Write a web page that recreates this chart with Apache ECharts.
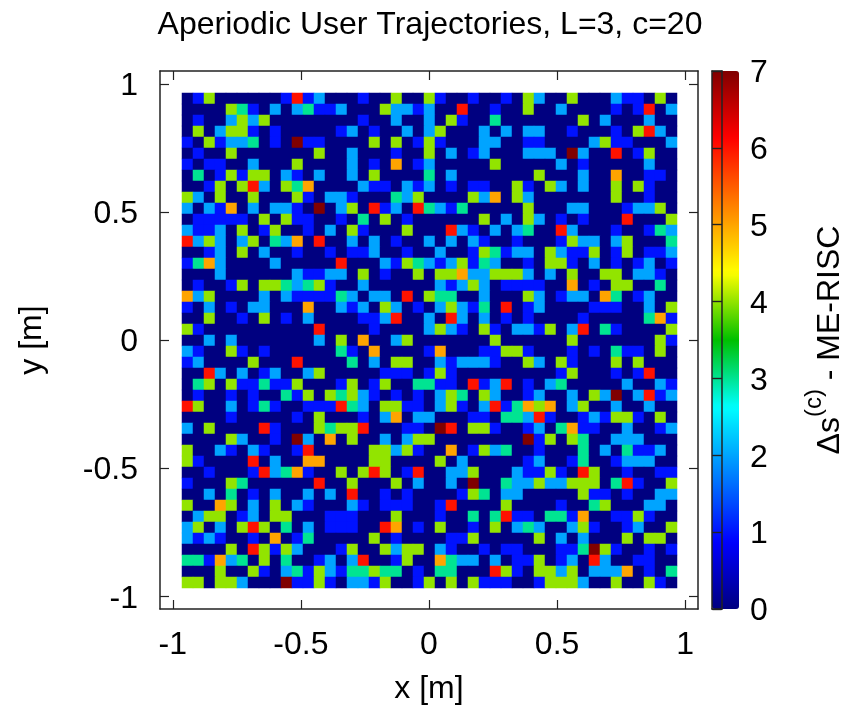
<!DOCTYPE html>
<html>
<head>
<meta charset="utf-8">
<style>html,body{margin:0;padding:0;background:#fff}#c{width:847px;height:713px}</style>
<script src="https://cdn.jsdelivr.net/npm/echarts@6/dist/echarts.min.js"></script>
</head>
<body>
<div id="c"></div>
<script>
// Each row (top to bottom) is split in two strings: 23 + 22 cell values.
const rowsLeft = [
"01400000016120001004004",
"00004310202311200042212",
"01002424000000001002002",
"04024410100000120100202",
"10412230107110000404014",
"01004000000040020001004",
"10110020004000020105012",
"03014144021020020400003",
"00140462043500002110212",
"42040040004102210003240",
"20215020221070240612063",
"01111104041100103040100",
"21120401400102041000400",
"62420240325060020201002",
"00120402001001011200100",
"13520000200000600021432",
"00020000002112204010040",
"01001404432341002000000",
"52400002021111320220604",
"10201022000500212042010",
"00400104010200001126002",
"41000000000060000100002",
"00202000000020405002400",
"21004101000000310500001",
"12000040006000030204400",
"00620201200240000011101",
"03404113114000140140033",
"01001010031404342101010",
"64002013100111632044110",
"00001000001040001025022",
"20400006100043446000110",
"00004200107205040020244",
"40021021001600000442410",
"41000060200550000440000",
"00100016235100404640160",
"10004300000060040004020",
"00203010200202060010100",
"40054020402100021011100",
"02440120440001110004000",
"24020464030201110065010",
"21210010501300000401000",
"00004064142000140042440",
"33152304030012026001400",
"00040041023142133433010",
"44044200071141022140014"
];
const rowsRight = [
"1001001042004000211040",
"0060010040020000101602",
"0410030000000402000200",
"4000202022001000104620",
"1000220011000024110002",
"0201200022207200601400",
"0000040000020100000200",
"0200000004000200500110",
"0101100410420200404100",
"0004250420000000400100",
"2130000040002200012240",
"0000402042010100060004",
"0621020230062000100132",
"0202100100014220240003",
"2001431220421140140112",
"1241320010441020101201",
"4452244420204004402210",
"2124201111005010440030",
"3300200042012205301200",
"2421306012000011100204",
"0620201010000100000351",
"4210410221402603100004",
"0000040000004000000041",
"5000114410001010311040",
"2122210042041000404000",
"4100000000014000101600",
"1106126010230000020021",
"2430420012002042702612",
"2410261354502400200200",
"0001103326100121441040",
"7604410012035110020012",
"0000000071404300222000",
"0501423001000302031120",
"4020000012001300122200",
"0224000211410640010011",
"0207003224224440361004",
"0014302200000411010022",
"1600004000010034000220",
"1003036110331500114100",
"4001040232002410012004",
"0114000004020200040440",
"2100101100011374100101",
"5322020114012062001100",
"3300064104424022250103",
"0404111001444200400410"
];
const xTicks = [-1, -0.5, 0, 0.5, 1];
const yTicks = [-1, -0.5, 0, 0.5, 1];
const barTicks = [0, 1, 2, 3, 4, 5, 6, 7];
const titleText = "Aperiodic User Trajectories, L=3, c=20";
const jetStops = ["#000080","#0000ff","#0080ff","#00ffff","#00c000","#ffff00","#ff8000","#ff0000","#800000"];

const rowStrings = rowsLeft.map((s, i) => s + rowsRight[i]);
const colNames = rowStrings[0].split("").map((_, i) => String(i));
const rowNames = rowStrings.map((_, i) => String(i));
const cells = [];
rowStrings.forEach((s, r) => s.split("").forEach((v, c) => cells.push([c, r, +v])));

const FONT = "Liberation Sans";
const INK = "#222222";
const frameLine = { show: true, onZero: false, lineStyle: { color: INK, width: 1.5 } };
const tickStyle = { lineStyle: { color: INK, width: 1.2 } };
const labelFont = { color: "#000", fontFamily: FONT, fontSize: 32 };
const nameFont = { color: "#000", fontFamily: FONT, fontSize: 32 };
const loweredRich = { t: { color: "#000", fontFamily: FONT, fontSize: 32, padding: [5, 0, 0, 0] } };
const lowered = v => "{t|" + v + "}";

function frameX(pos, withLabels) {
  return {
    type: "value", gridIndex: 0, position: pos, min: -1.05, max: 1.05,
    axisLine: frameLine, splitLine: { show: false },
    axisTick: { show: true, inside: true, length: 9, customValues: xTicks, ...tickStyle },
    axisLabel: withLabels ? { show: true, customValues: xTicks, margin: 20, formatter: v => String(v), ...labelFont } : { show: false },
    name: withLabels ? "x [m]" : "", nameLocation: "middle", nameGap: 64, nameTextStyle: nameFont, z: 5
  };
}
function frameY(pos, withLabels) {
  return {
    type: "value", gridIndex: 0, position: pos, min: -1.05, max: 1.05,
    axisLine: frameLine, splitLine: { show: false },
    axisTick: { show: true, inside: true, length: 9, customValues: yTicks, ...tickStyle },
    axisLabel: withLabels ? { show: true, customValues: yTicks, margin: 22, formatter: lowered, rich: loweredRich } : { show: false },
    name: withLabels ? "y [m]" : "", nameLocation: "middle", nameGap: 112, nameTextStyle: nameFont, z: 5
  };
}

const option = {
  animation: false,
  backgroundColor: "#fff",
  title: { text: titleText, left: 430, top: 9, textAlign: "center", padding: 0,
    textStyle: { color: "#000", fontFamily: FONT, fontSize: 32, fontWeight: "normal" } },
  grid: [
    { left: 160, top: 71, width: 538, height: 538 },
    { left: 182, top: 93, width: 495, height: 495 },
    { left: 712, top: 71, width: 27, height: 538 }
  ],
  xAxis: [
    frameX("bottom", true),
    frameX("top", false),
    { type: "category", gridIndex: 1, data: colNames, show: false },
    { type: "value", gridIndex: 2, position: "bottom", min: 0, max: 1, axisLine: frameLine, axisTick: { show: false }, axisLabel: { show: false }, splitLine: { show: false }, z: 6 },
    { type: "value", gridIndex: 2, position: "top", min: 0, max: 1, axisLine: frameLine, axisTick: { show: false }, axisLabel: { show: false }, splitLine: { show: false }, z: 6 }
  ],
  yAxis: [
    frameY("left", true),
    frameY("right", false),
    { type: "category", gridIndex: 1, data: rowNames, inverse: true, show: false },
    { type: "value", gridIndex: 2, position: "left", min: 0, max: 7, interval: 1,
      axisLine: frameLine, axisTick: { show: true, inside: true, length: 9, ...tickStyle }, axisLabel: { show: false }, splitLine: { show: false }, z: 6 },
    { type: "value", gridIndex: 2, position: "right", min: 0, max: 7, interval: 1,
      axisLine: frameLine, axisTick: { show: true, inside: true, length: 9, ...tickStyle },
      axisLabel: { show: true, margin: 28, customValues: barTicks, formatter: lowered, rich: loweredRich }, splitLine: { show: false }, z: 6,
      name: "{a|\u0394s}{b|(c)}{a| - ME-RISC}", nameLocation: "middle", nameGap: 80, nameRotate: 90,
      nameTextStyle: { rich: {
        a: { fontFamily: FONT, fontSize: 32, color: "#000", verticalAlign: "bottom", lineHeight: 44 },
        b: { fontFamily: FONT, fontSize: 24, color: "#000", verticalAlign: "top", lineHeight: 44 }
      } } }
  ],
  visualMap: {
    type: "continuous", min: 0, max: 7, seriesIndex: 0, calculable: false, realtime: false,
    left: 712, top: 71, itemWidth: 27, itemHeight: 538, padding: 0, text: null, showLabel: false,
    borderWidth: 0, inRange: { color: jetStops }, z: 2, textStyle: { fontSize: 0 }
  },
  series: [
    { type: "heatmap", xAxisIndex: 2, yAxisIndex: 2, data: cells, itemStyle: { borderWidth: 0 }, emphasis: { disabled: true }, progressive: 0 }
  ]
};
echarts.init(document.getElementById("c"), null, { renderer: "canvas" }).setOption(option);
</script>
</body>
</html>
